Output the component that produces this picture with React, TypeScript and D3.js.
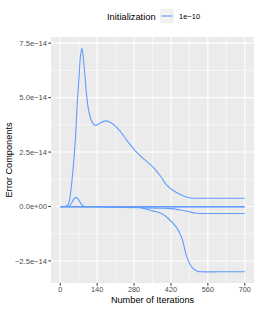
import * as d3 from 'd3'

// error components (values in units of 1e-14)
const iterPeak = [0, 20, 30, 38, 47, 57, 64, 72, 77, 82, 87, 93, 99, 105, 114, 122, 133, 150, 171, 196, 227, 255, 284, 320, 353, 380, 404, 430, 454, 475, 495, 520, 600, 700]
const errPeak = [0, 0.01, 0.1, 0.5, 1.5, 3.0, 4.6, 6.1, 6.95, 7.27, 6.9, 6.1, 5.25, 4.6, 4.1, 3.85, 3.72, 3.82, 3.93, 3.82, 3.46, 3.0, 2.57, 2.15, 1.8, 1.4, 0.98, 0.72, 0.56, 0.45, 0.39, 0.38, 0.38, 0.38]

const iterBump = [0, 25, 34, 45, 53, 60, 67, 75, 84, 93, 110, 400, 700]
const errBump = [0, 0, 0.03, 0.2, 0.36, 0.42, 0.36, 0.2, 0.06, 0, 0, 0, 0]

const iterSmallNeg = [0, 100, 200, 300, 380, 420, 450, 490, 510, 530, 600, 700]
const errSmallNeg = [0, 0, -0.03, -0.06, -0.08, -0.1, -0.15, -0.24, -0.3, -0.32, -0.32, -0.32]

const iterBigNeg = [0, 200, 250, 300, 350, 380, 410, 440, 460, 480, 500, 520, 540, 600, 700]
const errBigNeg = [0, -0.01, -0.02, -0.04, -0.2, -0.3, -0.55, -0.95, -1.4, -2.3, -2.8, -2.97, -3.0, -3.0, -3.0]

const iterFlat = [0, 700]
const errFlat = [0, 0]
const errFlat2 = [-0.04, -0.04]

const xTicks = [0, 140, 280, 420, 560, 700]
const yTicks = [-2.5, 0, 2.5, 5, 7.5]
const yTickLabels = ['\u22122.5e\u221214', '0.0e+00', '2.5e\u221214', '5.0e\u221214', '7.5e\u221214']

const series = [
  { it: iterFlat, v: errFlat },
  { it: iterFlat, v: errFlat2 },
  { it: iterBump, v: errBump },
  { it: iterSmallNeg, v: errSmallNeg },
  { it: iterBigNeg, v: errBigNeg },
  { it: iterPeak, v: errPeak },
]

const lineColor = '#619CFF'
const font = 'Liberation Sans, Arial, sans-serif'

export default function App() {
  const width = 258
  const height = 309
  const left = 51
  const right = 254
  const top = 37
  const bottom = 283

  const x = d3.scaleLinear().domain([-35, 735]).range([left, right])
  const allVals = series.flatMap((s) => s.v)
  const lo = d3.min(allVals) as number
  const hi = d3.max(allVals) as number
  const pad = (hi - lo) * 0.05
  const y = d3.scaleLinear().domain([lo - pad, hi + pad]).range([bottom, top])

  const line = d3
    .line<[number, number]>()
    .curve(d3.curveCatmullRom.alpha(0.5))
    .x((d) => x(d[0]))
    .y((d) => y(d[1]))

  const xMinor = xTicks.slice(0, -1).map((t) => t + 70)
  const yMinor = yTicks.slice(0, -1).map((t) => t + 1.25)

  return (
    <svg width={width} height={height} style={{ position: 'absolute', left: 0, top: 0 }} fontFamily={font}>
      <rect x={0} y={0} width={width} height={height} fill="#fff" />
      {/* legend */}
      <text x={107} y={19.5} fontSize={9.3} fill="#000">Initialization</text>
      <rect x={160} y={9} width={14} height={14} fill="#F2F2F2" />
      <line x1={161.5} x2={172.5} y1={16} y2={16} stroke={lineColor} strokeWidth={1.1} />
      <text x={179} y={19} fontSize={7.5} fill="#000">1e{'\u2212'}10</text>

      {/* panel */}
      <rect x={left} y={top} width={right - left} height={bottom - top} fill="#EBEBEB" />
      {xMinor.map((t) => (
        <line key={'xm' + t} x1={x(t)} x2={x(t)} y1={top} y2={bottom} stroke="#fff" strokeWidth={0.55} />
      ))}
      {yMinor.map((t) => (
        <line key={'ym' + t} x1={left} x2={right} y1={y(t)} y2={y(t)} stroke="#fff" strokeWidth={0.55} />
      ))}
      {xTicks.map((t) => (
        <line key={'xg' + t} x1={x(t)} x2={x(t)} y1={top} y2={bottom} stroke="#fff" strokeWidth={1.1} />
      ))}
      {yTicks.map((t) => (
        <line key={'yg' + t} x1={left} x2={right} y1={y(t)} y2={y(t)} stroke="#fff" strokeWidth={1.1} />
      ))}

      {series.map((s, i) => (
        <path
          key={i}
          d={line(s.it.map((t, j) => [t, s.v[j]] as [number, number])) as string}
          fill="none"
          stroke={lineColor}
          strokeWidth={1.1}
          opacity={i === 1 ? 0.6 : 1}
        />
      ))}

      {/* axes */}
      {xTicks.map((t) => (
        <g key={'xt' + t}>
          <line x1={x(t)} x2={x(t)} y1={bottom} y2={bottom + 2.7} stroke="#333" strokeWidth={1} />
          <text x={x(t)} y={bottom + 8.8} fontSize={7.3} fill="#4D4D4D" textAnchor="middle">{t}</text>
        </g>
      ))}
      {yTicks.map((t, i) => (
        <g key={'yt' + t}>
          <line x1={left - 2.7} x2={left} y1={y(t)} y2={y(t)} stroke="#333" strokeWidth={1} />
          <text x={left - 4} y={y(t) + 2.6} fontSize={7.6} fill="#4D4D4D" textAnchor="end">{yTickLabels[i]}</text>
        </g>
      ))}
      <text x={(left + right) / 2} y={303} fontSize={9.2} fill="#000" textAnchor="middle">Number of Iterations</text>
      <text
        transform={`translate(12,${(top + bottom) / 2}) rotate(-90)`}
        fontSize={9.2}
        fill="#000"
        textAnchor="middle"
      >
        Error Components
      </text>
    </svg>
  )
}
